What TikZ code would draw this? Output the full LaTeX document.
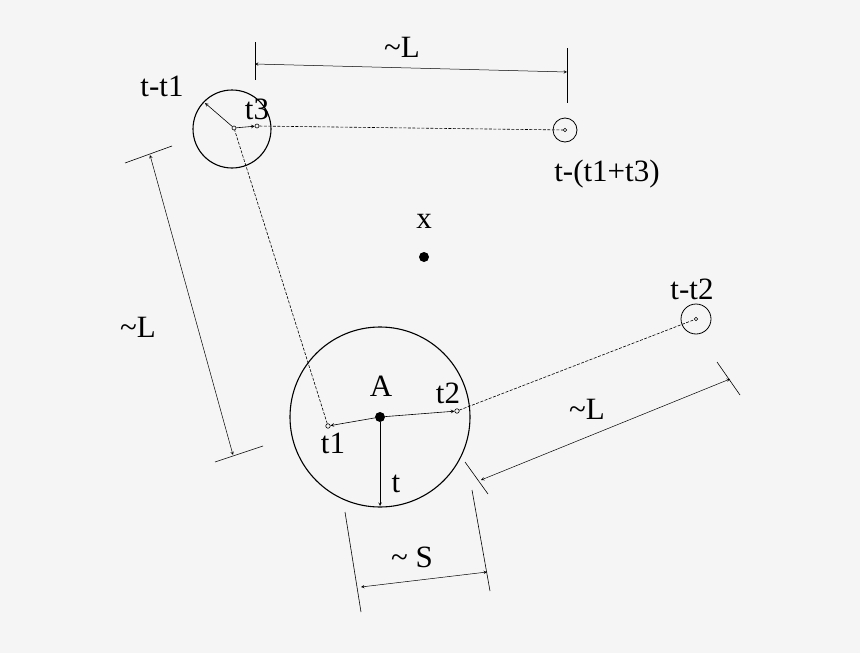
\documentclass[tikz,border=0pt]{standalone}
\usepackage{fontspec}
\setmainfont{Liberation Serif}
\begin{document}
\begin{tikzpicture}[x=1pt,y=-1pt,
  lbl/.style={font=\fontsize{31}{33}\selectfont, inner sep=0pt},
  dim/.style={line width=0.5pt,<->,>=stealth},
  tick/.style={line width=0.6pt},
  sm/.style={circle,draw,line width=0.6pt,inner sep=0pt,minimum size=4.5pt},
  arr/.style={line width=0.6pt,->,>=stealth},
  dsh/.style={line width=0.6pt,dashed,dash pattern=on 3pt off 1.5pt}]
\fill[gray!8] (0,0) rectangle (860,653);
\useasboundingbox (0,0) rectangle (860,653);
% big circle
\node (A) [circle,fill,inner sep=0pt,minimum size=10pt] at (380,417) {};
\draw[line width=1.1pt] (380,417) circle (90);
\node (t1) [sm] at (328,426) {};
\node (t2) [sm] at (457,411) {};
\coordinate (tb) at (380,506);
\draw[arr] (A) -- (t1);
\draw[arr] (A) -- (t2);
\draw[arr] (A) -- (tb);
\node[lbl] at (381,386) {A};
\node[lbl] at (333,443) {t1};
\node[lbl] at (448,393) {t2};
\node[lbl] at (396,484) {t};
% t-t1 circle
\draw[line width=1.1pt] (232,129) circle (39);
\node (c1) [sm,minimum size=4pt] at (234,128) {};
\node (t3) [sm,minimum size=4pt] at (257,126) {};
\coordinate (ul) at (205,103);
\draw[arr] (c1) -- (ul);
\draw[arr] (c1) -- (t3);
\node[lbl] at (257,109) {t3};
\node[lbl] at (162,86) {t-t1};
\draw[dsh] (t1) -- (c1);
% t-(t1+t3)
\node (c3) [sm,minimum size=3.5pt] at (565,130) {};
\draw[line width=0.8pt] (565,130) circle (12);
\draw[dsh] (t3) -- (c3);
\node[lbl] at (607,174) {t-(t1+t3)};
% t-t2
\node (c2) [sm,minimum size=3.5pt] at (696,319) {};
\draw[line width=0.8pt] (696,319) circle (15);
\draw[dsh] (t2) -- (c2);
\node[lbl] at (692,289) {t-t2};
% x
\node (X) [circle,fill,inner sep=0pt,minimum size=10pt] at (424,257) {};
\node[lbl] at (424,221) {x};
% top dimension
\draw[tick] (255,42) -- (255,80);
\draw[tick] (567,48) -- (567,103);
\coordinate (d1a) at (255,64); \coordinate (d1b) at (567,72);
\draw[dim] (d1a) -- (d1b);
\node[lbl] at (402,47) {\textasciitilde L};
% left dimension
\draw[tick] (125,163) -- (172,146);
\draw[tick] (215,462) -- (263,446);
\coordinate (d2a) at (150,155); \coordinate (d2b) at (233,455);
\draw[dim] (d2a) -- (d2b);
\node[lbl] at (138,327) {\textasciitilde L};
% right dimension
\draw[tick] (717,362) -- (740,395);
\draw[tick] (465,462) -- (488,494);
\coordinate (d3a) at (481,480); \coordinate (d3b) at (730,379);
\draw[dim] (d3a) -- (d3b);
\node[lbl] at (587,409) {\textasciitilde L};
% bottom dimension
\draw[tick] (345,512) -- (361,612);
\draw[tick] (472,490) -- (490,591);
\coordinate (d4a) at (361,587); \coordinate (d4b) at (487,572);
\draw[dim] (d4a) -- (d4b);
\node[lbl] at (412,557) {\textasciitilde{} S};
\end{tikzpicture}
\end{document}
